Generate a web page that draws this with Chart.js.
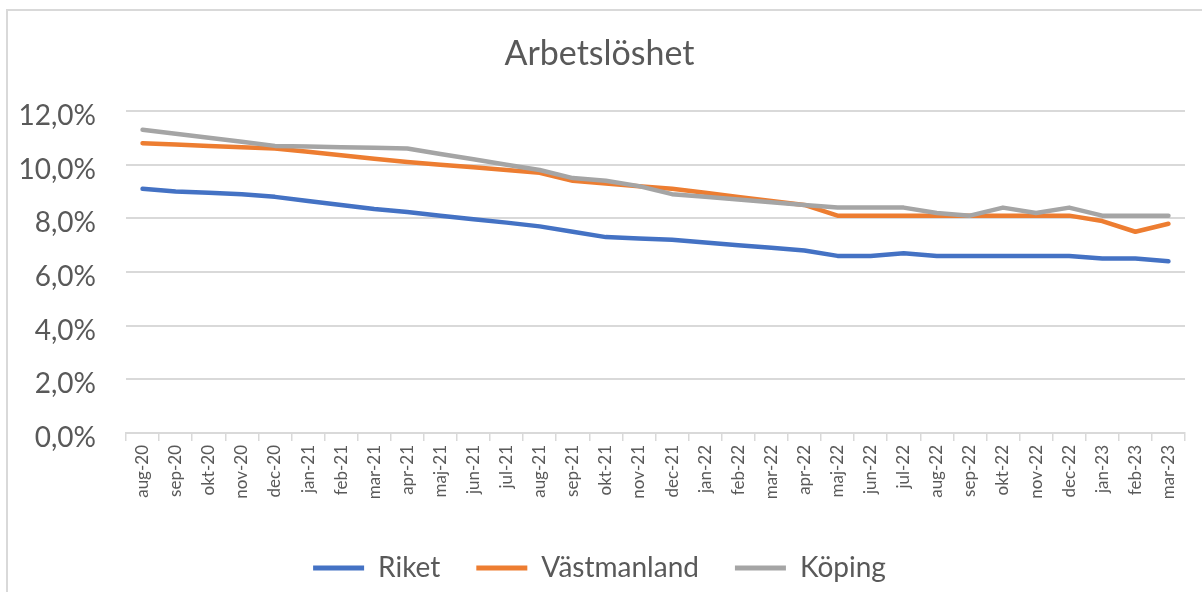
<!DOCTYPE html>
<html>
<head>
<meta charset="utf-8">
<script src="https://cdn.jsdelivr.net/npm/chart.js@4.4.0/dist/chart.umd.min.js"></script>
<style>
  html, body { margin: 0; padding: 0; background: #fff; overflow: hidden; }
  #ram { position: absolute; left: 6px; top: 9px; width: 1300px; height: 700px;
         border-left: 2px solid #d9d9d9; border-top: 2px solid #d9d9d9; }
  #box { position: absolute; left: 0; top: 0; width: 1202px; height: 592px; }
</style>
</head>
<body>
<div id="ram"></div>
<div id="box"><canvas id="grafico"></canvas></div>
<script>
// Månader (kategorier)
const manader = ["aug-20", "sep-20", "okt-20", "nov-20", "dec-20",
  "jan-21", "feb-21", "mar-21", "apr-21", "maj-21", "jun-21", "jul-21",
  "aug-21", "sep-21", "okt-21", "nov-21", "dec-21",
  "jan-22", "feb-22", "mar-22", "apr-22", "maj-22", "jun-22", "jul-22",
  "aug-22", "sep-22", "okt-22", "nov-22", "dec-22",
  "jan-23", "feb-23", "mar-23"];

// Arbetslöshet i procent
const riket = [9.1, 9.0, 8.95, 8.9, 8.8, 8.65, 8.5, 8.35, 8.24, 8.1, 7.97, 7.84,
  7.7, 7.5, 7.3, 7.25, 7.2, 7.1, 7.0, 6.9, 6.8, 6.6, 6.6, 6.7,
  6.6, 6.6, 6.6, 6.6, 6.6, 6.5, 6.5, 6.4];
const vastmanland = [10.8, 10.75, 10.7, 10.65, 10.6, 10.48, 10.35, 10.22, 10.1, 10.0, 9.9, 9.8,
  9.7, 9.4, 9.3, 9.2, 9.1, 8.95, 8.8, 8.65, 8.5, 8.1, 8.1, 8.1,
  8.1, 8.1, 8.1, 8.1, 8.1, 7.9, 7.5, 7.8];
const koping = [11.3, 11.15, 11.0, 10.85, 10.7, 10.68, 10.65, 10.63, 10.6, 10.4, 10.2, 10.0,
  9.8, 9.5, 9.4, 9.2, 8.9, 8.8, 8.7, 8.6, 8.5, 8.4, 8.4, 8.4,
  8.2, 8.1, 8.4, 8.2, 8.4, 8.1, 8.1, 8.1];

const yTicks = [0, 2, 4, 6, 8, 10, 12];

const textFarg = "#595959";
const rutnat = "#d9d9d9";
const typsnitt = "Lato, 'Noto Sans', sans-serif";

function serie(namn, data, farg, ordning) {
  return {
    label: namn,
    data: data,
    borderColor: farg,
    backgroundColor: farg,
    borderWidth: 4.5,
    pointRadius: 0,
    tension: 0,
    borderCapStyle: "round",
    borderJoinStyle: "round",
    order: ordning
  };
}

const ctx = document.getElementById("grafico");

new Chart(ctx, {
  type: "line",
  data: {
    labels: manader,
    datasets: [
      serie("Riket", riket, "#4472C4", 3),
      serie("Västmanland", vastmanland, "#ED7D31", 2),
      serie("Köping", koping, "#A5A5A5", 1)
    ]
  },
  options: {
    responsive: true,
    maintainAspectRatio: false,
    animation: false,
    layout: { padding: { left: 14, right: 17, top: 0, bottom: 0 } },
    plugins: {
      tooltip: { enabled: false },
      title: {
        display: true,
        text: "Arbetslöshet",
        color: textFarg,
        font: { family: typsnitt, size: 34, weight: "normal" },
        padding: { top: 34, bottom: 36.2 }
      },
      legend: {
        position: "bottom",
        labels: {
          color: textFarg,
          font: { family: typsnitt, size: 28 },
          boxWidth: 51,
          boxHeight: 5,
          padding: 36,
          sort: (a, b) => a.datasetIndex - b.datasetIndex,
          generateLabels: (chart) =>
            Chart.defaults.plugins.legend.labels.generateLabels(chart)
              .map(l => ({ ...l, lineWidth: 0 }))
        }
      }
    },
    scales: {
      x: {
        offset: true,
        grid: {
          display: true,
          drawOnChartArea: false,
          drawTicks: true,
          tickLength: 8,
          offset: true,
          color: rutnat,
          lineWidth: 1.5
        },
        border: { color: rutnat, width: 2 },
        ticks: {
          color: textFarg,
          font: { family: typsnitt, size: 17 },
          minRotation: 90,
          maxRotation: 90,
          autoSkip: false,
          padding: 4
        },
        afterFit: (s) => { s.height = 85; }
      },
      y: {
        min: 0,
        max: 12,
        afterBuildTicks: (s) => { s.ticks = yTicks.map(v => ({ value: v })); },
        grid: { color: rutnat, lineWidth: 2, drawTicks: false },
        border: { display: false },
        ticks: {
          color: textFarg,
          font: { family: typsnitt, size: 28 },
          padding: 30,
          labelOffset: 5,
          callback: (v) => v.toFixed(1).replace(".", ",") + "%"
        },
        afterFit: (s) => { s.width = 112; }
      }
    }
  }
});
</script>
</body>
</html>
